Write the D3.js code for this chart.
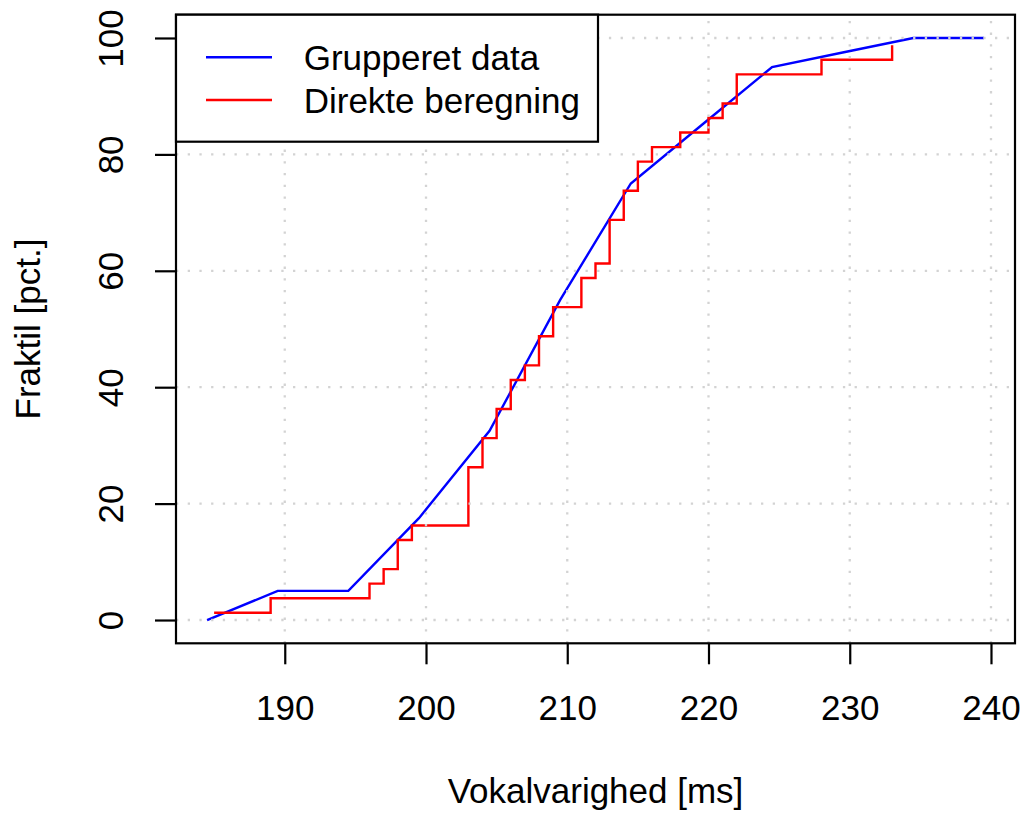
<!DOCTYPE html>
<html>
<head>
<meta charset="utf-8">
<script src="https://cdn.jsdelivr.net/npm/d3@7"></script>
<style>
  body { margin: 0; background: #fff; }
  text { font-family: "Liberation Sans", Arial, sans-serif; font-size: 35px; fill: #000; }
</style>
</head>
<body>
<div id="container"></div>
<script>
// grupperet data: klassegrænser og kumuleret frekvens
var groupX = [184.5, 189.5, 194.5, 199.5, 204.5, 209.5, 214.5, 219.5, 224.5, 229.5, 234.5, 239.5];
var groupY = [0, 5, 5, 17.5, 32.5, 55, 75, 85, 95, 97.5, 100, 100];

// direkte beregning: sorterede observationer og fraktiler
var directX = [185, 189, 196, 197, 198, 198, 199, 203, 203, 203, 203, 204, 204, 205, 205, 206, 206, 207, 208, 208,
               209, 209, 211, 211, 212, 213, 213, 213, 214, 214, 215, 215, 216, 218, 220, 221, 222, 222, 228, 233];
var directY = [1.25, 3.75, 6.25, 8.75, 11.25, 13.75, 16.25, 18.75, 21.25, 23.75, 26.25, 28.75, 31.25, 33.75, 36.25,
               38.75, 41.25, 43.75, 46.25, 48.75, 51.25, 53.75, 56.25, 58.75, 61.25, 63.75, 66.25, 68.75, 71.25, 73.75,
               76.25, 78.75, 81.25, 83.75, 86.25, 88.75, 91.25, 93.75, 96.25, 98.75];

var xTicks = [190, 200, 210, 220, 230, 240];
var yTicks = [0, 20, 40, 60, 80, 100];
var legendLabels = ["Grupperet data", "Direkte beregning"];
var legendColors = ["#0000ff", "#ff0000"];

// plot region (window.top is taken, so pL/pR/pT/pB)
var pL = 176, pR = 1015, pT = 14.7, pB = 643.3;

var svg = d3
  .select("#container")
  .append("svg")
  .attr("width", 1023)
  .attr("height", 814);

var x = d3.scaleLinear().domain([182.3, 241.7]).range([pL, pR]);
var y = d3.scaleLinear().domain([-4, 104]).range([pB, pT]);

var line = d3.line()
  .x(d => x(d[0]))
  .y(d => y(d[1]));

svg.append("path")
  .datum(d3.zip(groupX, groupY))
  .attr("d", line)
  .attr("fill", "none")
  .attr("stroke", legendColors[0])
  .attr("stroke-width", 2.4);

svg.append("path")
  .datum(d3.zip(directX, directY))
  .attr("d", line.curve(d3.curveStepAfter))
  .attr("fill", "none")
  .attr("stroke", legendColors[1])
  .attr("stroke-width", 2.4);

// grid on top, like grid() after lines
var grid = svg.append("g")
  .attr("stroke", "#d3d3d3")
  .attr("stroke-width", 2.3)
  .attr("stroke-dasharray", "2.3,9.4");

grid.selectAll(".gx")
  .data(xTicks)
  .enter()
  .append("line")
  .attr("x1", d => x(d))
  .attr("x2", d => x(d))
  .attr("y1", pB)
  .attr("y2", pT);

grid.selectAll(".gy")
  .data(yTicks)
  .enter()
  .append("line")
  .attr("x1", pL)
  .attr("x2", pR)
  .attr("y1", d => y(d))
  .attr("y2", d => y(d));

// axes
var xAxis = svg.append("g")
  .attr("transform", "translate(0," + pB + ")")
  .call(d3.axisBottom(x).tickValues(xTicks).tickSize(21).tickSizeOuter(0).tickPadding(0));

xAxis.selectAll("text")
  .attr("dy", null)
  .attr("y", 77)
  .style("font-size", "35px");

var yAxis = svg.append("g")
  .attr("transform", "translate(" + pL + ",0)")
  .call(d3.axisLeft(y).tickValues(yTicks).tickSize(21).tickSizeOuter(0));

yAxis.selectAll("text")
  .attr("x", null)
  .attr("dy", null)
  .attr("text-anchor", "middle")
  .attr("transform", "translate(-52.7,0) rotate(-90)")
  .style("font-size", "35px");

svg.selectAll(".domain").remove();
svg.selectAll(".tick line").attr("stroke", "#000").attr("stroke-width", 2.2);

// box round the plot region
svg.append("rect")
  .attr("x", pL)
  .attr("y", pT)
  .attr("width", pR - pL)
  .attr("height", pB - pT)
  .attr("fill", "none")
  .attr("stroke", "#000")
  .attr("stroke-width", 2.2);

// axis titles
svg.append("text")
  .attr("x", (pL + pR) / 2)
  .attr("y", 803)
  .attr("text-anchor", "middle")
  .text("Vokalvarighed [ms]");

svg.append("text")
  .attr("transform", "translate(40," + (pT + pB) / 2 + ") rotate(-90)")
  .attr("text-anchor", "middle")
  .text("Fraktil [pct.]");

// legend, topleft
var legend = svg.append("g");

legend.append("rect")
  .attr("x", pL)
  .attr("y", pT)
  .attr("width", 422)
  .attr("height", 127)
  .attr("fill", "#fff")
  .attr("stroke", "#000")
  .attr("stroke-width", 2.2);

legendLabels.forEach(function(lab, i) {
  var ly = 57.3 + i * 42.7;
  legend.append("line")
    .attr("x1", 206)
    .attr("x2", 272)
    .attr("y1", ly)
    .attr("y2", ly)
    .attr("stroke", legendColors[i])
    .attr("stroke-width", 2.4);
  legend.append("text")
    .attr("x", 303.7)
    .attr("y", ly + 12.5)
    .text(lab);
});
</script>
</body>
</html>
